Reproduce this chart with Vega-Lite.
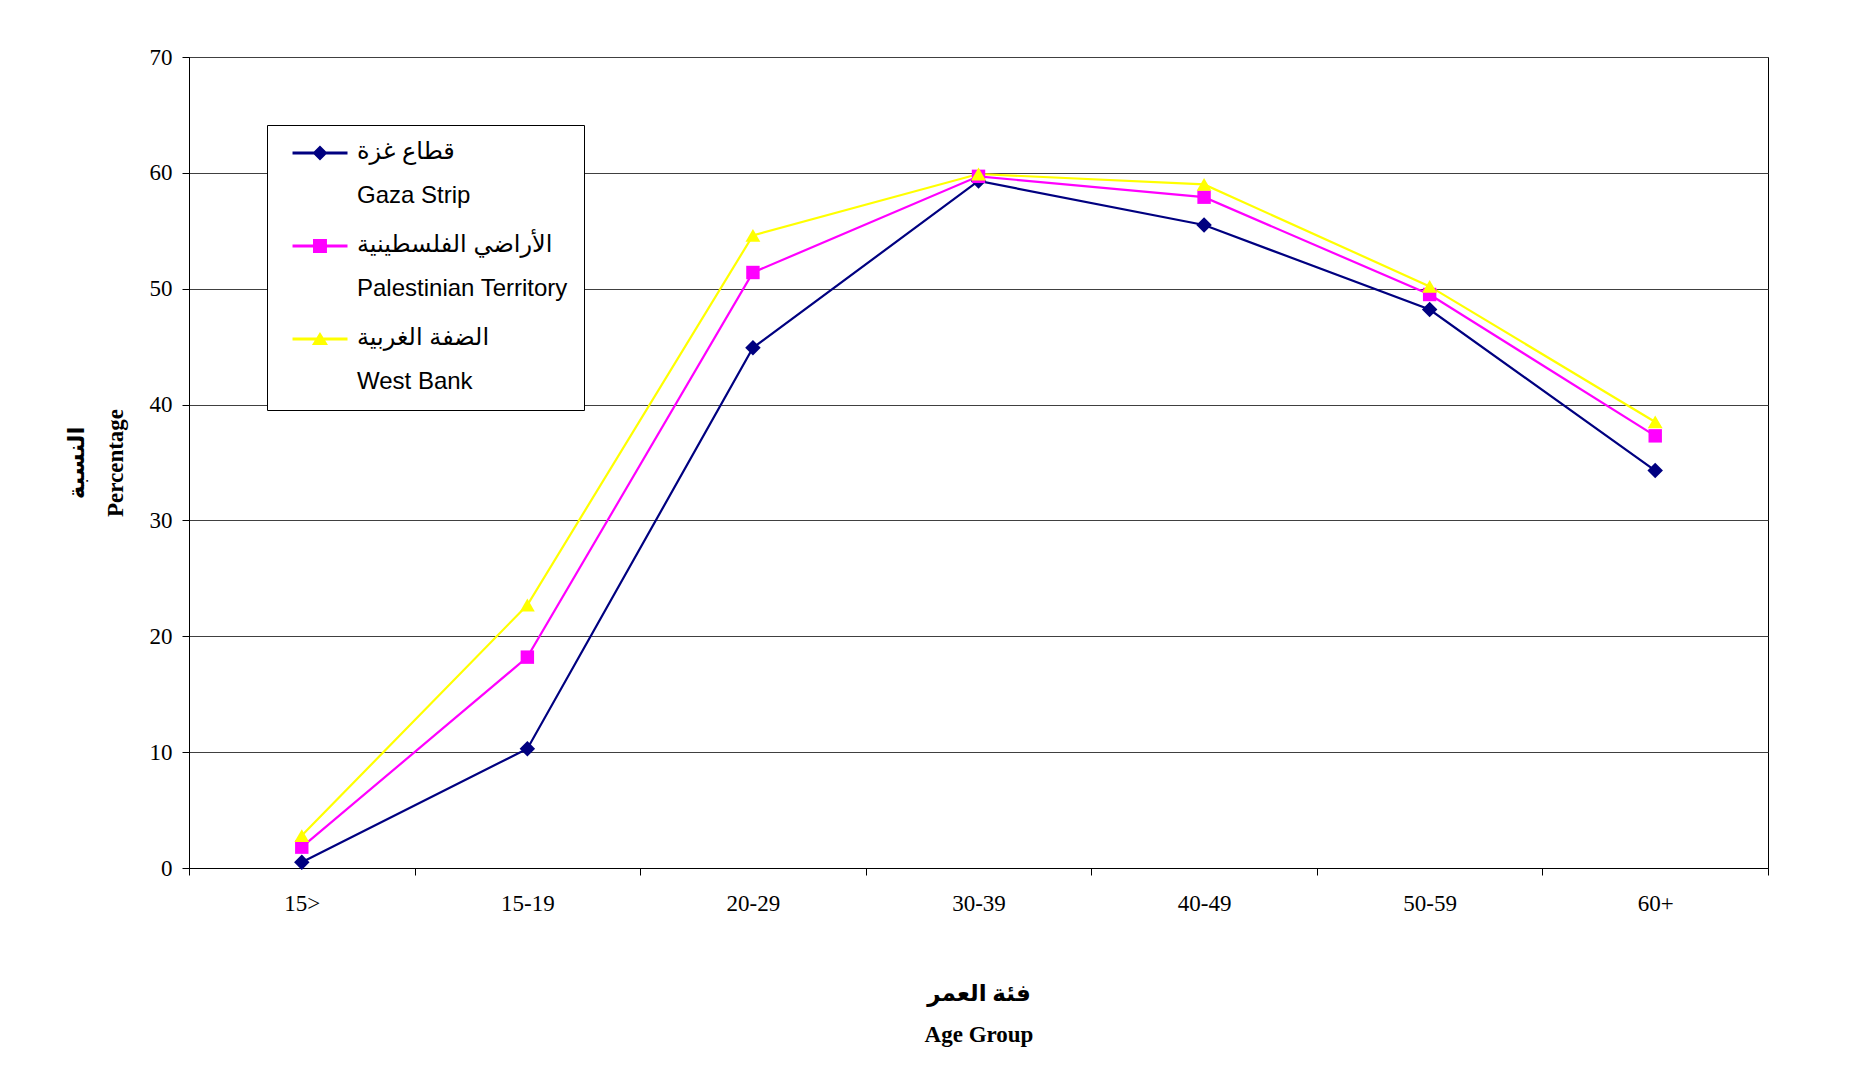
{
  "$schema": "https://vega.github.io/schema/vega-lite/v6.json",
  "autosize": "none",
  "width": 1579,
  "height": 811,
  "padding": {"left": 189, "top": 57, "right": 94, "bottom": 213},
  "background": "white",
  "config": {
    "view": {"stroke": "#000000", "strokeWidth": 1},
    "axis": {"labelFont": "Liberation Serif", "labelFontSize": 23, "labelColor": "#000", "titleFont": "Liberation Serif, DejaVu Sans", "titleFontSize": 23, "titleFontWeight": "bold", "titleColor": "#000", "domainColor": "#000", "tickColor": "#000"}
  },
  "data": {
    "values": [
      {"age": "15>", "series": "Gaza Strip", "pct": 0.5},
      {"age": "15-19", "series": "Gaza Strip", "pct": 10.3},
      {"age": "20-29", "series": "Gaza Strip", "pct": 44.9},
      {"age": "30-39", "series": "Gaza Strip", "pct": 59.3},
      {"age": "40-49", "series": "Gaza Strip", "pct": 55.5},
      {"age": "50-59", "series": "Gaza Strip", "pct": 48.2},
      {"age": "60+", "series": "Gaza Strip", "pct": 34.3},
      {"age": "15>", "series": "Palestinian Territory", "pct": 1.8},
      {"age": "15-19", "series": "Palestinian Territory", "pct": 18.2},
      {"age": "20-29", "series": "Palestinian Territory", "pct": 51.4},
      {"age": "30-39", "series": "Palestinian Territory", "pct": 59.7},
      {"age": "40-49", "series": "Palestinian Territory", "pct": 57.9},
      {"age": "50-59", "series": "Palestinian Territory", "pct": 49.5},
      {"age": "60+", "series": "Palestinian Territory", "pct": 37.3},
      {"age": "15>", "series": "West Bank", "pct": 2.8},
      {"age": "15-19", "series": "West Bank", "pct": 22.7},
      {"age": "20-29", "series": "West Bank", "pct": 54.6},
      {"age": "30-39", "series": "West Bank", "pct": 59.9},
      {"age": "40-49", "series": "West Bank", "pct": 59.0},
      {"age": "50-59", "series": "West Bank", "pct": 50.2},
      {"age": "60+", "series": "West Bank", "pct": 38.5}
    ]
  },
  "encoding": {
    "x": {
      "field": "age", "type": "ordinal", "sort": null,
      "scale": {"type": "band", "paddingInner": 0, "paddingOuter": 0},
      "axis": {"title": ["فئة العمر", "Age Group"], "titleLineHeight": 41, "titlePadding": 67, "labelAngle": 0, "tickBand": "extent", "tickSize": 7, "labelPadding": 17, "grid": false}
    },
    "y": {
      "field": "pct", "type": "quantitative",
      "scale": {"domain": [0, 70], "nice": false},
      "axis": {"title": ["النسبة", "Percentage"], "titleLineHeight": 39, "titlePadding": 22, "values": [0, 10, 20, 30, 40, 50, 60, 70], "tickSize": 7, "labelPadding": 10, "grid": true, "gridColor": "#404040", "gridOpacity": 1}
    },
    "color": {
      "field": "series", "type": "nominal",
      "scale": {"domain": ["Gaza Strip", "Palestinian Territory", "West Bank"], "range": ["#000080", "#FF00FF", "#FFFF00"]},
      "legend": {
        "title": null, "orient": "none", "legendX": 78, "legendY": 68,
        "fillColor": "white", "strokeColor": "#000", "padding": 16,
        "labelFont": "Liberation Sans, DejaVu Sans", "labelFontSize": 24, "labelColor": "#000", "labelLimit": 500,
        "labelOffset": 50, "symbolSize": 225, "symbolOpacity": 1, "symbolStrokeWidth": 0, "rowPadding": 25,
        "labelBaseline": "alphabetic",
        "labelExpr": "datum.label == 'Gaza Strip' ? ['قطاع غزة', 'Gaza Strip'] : datum.label == 'Palestinian Territory' ? ['الأراضي الفلسطينية', 'Palestinian Territory'] : ['الضفة الغربية', 'West Bank']",
        "encode": {"labels": {"update": {"lineHeight": {"value": 44}, "dy": {"value": 6}}}}
      }
    }
  },
  "layer": [
    {"mark": {"type": "line", "strokeWidth": 2.2}},
    {"transform": [{"filter": "datum.series == 'Gaza Strip'"}], "mark": {"type": "point", "shape": "diamond", "filled": true, "opacity": 1, "size": 240}},
    {"transform": [{"filter": "datum.series == 'Palestinian Territory'"}], "mark": {"type": "point", "shape": "square", "filled": true, "opacity": 1, "size": 180}},
    {"transform": [{"filter": "datum.series == 'West Bank'"}], "mark": {"type": "point", "shape": "triangle-up", "filled": true, "opacity": 1, "size": 220}},
    {
      "mark": {"type": "point", "filled": true, "opacity": 0},
      "encoding": {
        "shape": {
          "field": "series", "type": "nominal",
          "scale": {"domain": ["Gaza Strip", "Palestinian Territory", "West Bank"], "range": [
            "M-0.33,-0.2H7V0.2H-0.33Z M3.33,-1L4.33,0L3.33,1L2.33,0Z",
            "M-0.33,-0.2H7V0.2H-0.33Z M2.4,-0.93H4.26V0.93H2.4Z",
            "M-0.33,-0.2H7V0.2H-0.33Z M3.33,-0.95L4.4,0.8H2.26Z"
          ]},
          "legend": {"title": null}
        }
      }
    }
  ]
}
